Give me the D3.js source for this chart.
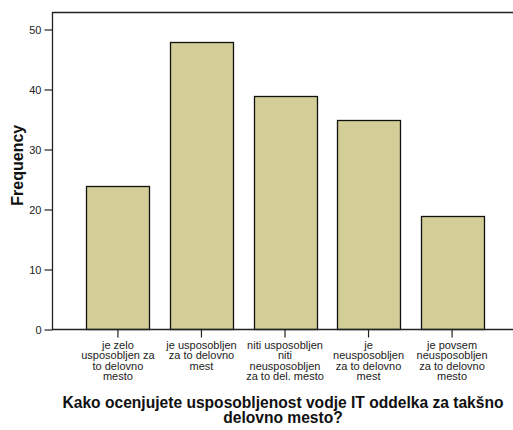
<!DOCTYPE html>
<html>
<head>
<meta charset="utf-8">
<script src="https://cdn.jsdelivr.net/npm/d3@7"></script>
<style>
  html, body { margin: 0; padding: 0; background: #fff; }
  svg { display: block; font-family: Arial, "Liberation Sans", sans-serif; }
</style>
</head>
<body>
<svg id="chart" width="513" height="430"></svg>
<script>
const categories = [
  "je zelo usposobljen za to delovno mesto",
  "je usposobljen za to delovno mest",
  "niti usposobljen niti neusposobljen za to del. mesto",
  "je neusposobljen za to delovno mest",
  "je povsem neusposobljen za to delovno mesto"
];
const categoryLines = [
  ["je zelo", "usposobljen za", "to delovno", "mesto"],
  ["je usposobljen", "za to delovno", "mest"],
  ["niti usposobljen", "niti", "neusposobljen", "za to del. mesto"],
  ["je", "neusposobljen", "za to delovno", "mest"],
  ["je povsem", "neusposobljen", "za to delovno", "mesto"]
];
const frequencies = [24, 48, 39, 35, 19];
const yTicks = [0, 10, 20, 30, 40, 50];
const yLabel = "Frequency";
const titleLines = ["Kako ocenjujete usposobljenost vodje IT oddelka za takšno", "delovno mesto?"];

(function () {
const svg = d3.select("#chart");
const mLeft = 53, mRight = 517, mTop = 13, mBottom = 329.5;

const x = d3.scaleBand().domain(categories).range([mLeft, mRight])
  .paddingInner(0.246).paddingOuter(0.4);
const y = d3.scaleLinear().domain([0, 52.75]).range([mBottom, mTop]);

// bars
svg.append("g").selectAll("rect").data(frequencies).join("rect")
  .attr("x", (d, i) => Math.round(x(categories[i])) + 0.5)
  .attr("y", d => Math.round(y(d)) + 0.5)
  .attr("width", x.bandwidth())
  .attr("height", d => mBottom - Math.round(y(d)) - 0.5)
  .attr("fill", "#d3ce98")
  .attr("stroke", "#111")
  .attr("stroke-width", 1.3);

// frame top line
svg.append("line").attr("x1", mLeft - 0.5).attr("x2", 513).attr("y1", mTop - 0.5).attr("y2", mTop - 0.5)
  .attr("stroke", "#222").attr("stroke-width", 1.3);

// y axis
const yAxis = d3.axisLeft(y).tickValues(yTicks).tickSize(8).tickPadding(3);
const gy = svg.append("g").attr("transform", `translate(${mLeft - 0.5},0)`).call(yAxis);
gy.select(".domain").attr("stroke", "#222").attr("stroke-width", 1.3)
  .attr("d", `M0,${mTop - 1}V${mBottom}`);
gy.selectAll(".tick line").attr("stroke", "#222").attr("stroke-width", 1.2);
gy.selectAll(".tick text").attr("font-size", 11).attr("fill", "#222")
  .attr("font-family", "Arial, 'Liberation Sans', sans-serif");

// x axis
const xAxis = d3.axisBottom(x).tickSize(8).tickFormat("");
const gx = svg.append("g").attr("transform", `translate(0,${mBottom})`).call(xAxis);
gx.select(".domain").attr("stroke", "#222").attr("stroke-width", 1.3)
  .attr("d", `M${mLeft - 1},0H513`);
gx.selectAll(".tick line").attr("stroke", "#222").attr("stroke-width", 1.2);

// category labels
const lab = svg.append("g").attr("font-size", 11).attr("fill", "#222").attr("text-anchor", "middle");
categories.forEach((c, i) => {
  const cx = x(c) + x.bandwidth() / 2;
  const t = lab.append("text").attr("x", cx).attr("y", 348.5);
  categoryLines[i].forEach((ln, j) => {
    t.append("tspan").attr("x", cx).attr("dy", j === 0 ? 0 : 10.5).text(ln);
  });
});

// y label
svg.append("text")
  .attr("transform", `translate(22.5,${(mTop + mBottom) / 2 - 6}) rotate(-90)`)
  .attr("text-anchor", "middle")
  .attr("font-size", 16).attr("font-weight", "bold").attr("fill", "#111")
  .text(yLabel);

// title
const tcx = (mLeft + mRight) / 2 - 2;
const tt = svg.append("text").attr("text-anchor", "middle").attr("font-size", 15.6)
  .attr("font-weight", "bold").attr("fill", "#111").attr("y", 407.5);
titleLines.forEach((ln, j) => {
  tt.append("tspan").attr("x", tcx).attr("dy", j === 0 ? 0 : 15.5).text(ln);
});
})();
</script>
</body>
</html>
